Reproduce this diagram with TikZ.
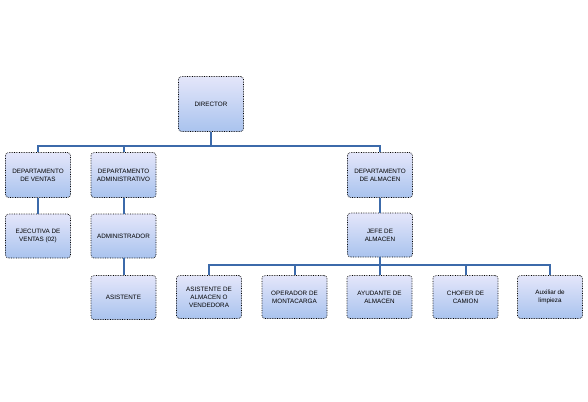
\documentclass[tikz,border=0pt]{standalone}
\usepackage{fontspec}
\setmainfont{Liberation Sans}
\usetikzlibrary{calc}
\definecolor{boxtop}{HTML}{E4E6FA}
\definecolor{boxbot}{HTML}{A9C3EE}
\definecolor{conn}{HTML}{3C6AAA}
\tikzset{
  orgbox/.style={draw=black, densely dotted, line width=0.7pt, rounded corners=3pt,
    top color=boxtop, bottom color=boxbot, minimum width=65pt, align=center,
    font=\fontsize{6.3}{8}\selectfont, inner sep=1pt},
  link/.style={draw=conn, line width=2pt}
}
\begin{document}
\begin{tikzpicture}[x=1pt,y=-1pt]
\useasboundingbox (0,0) rectangle (588,401);
\node[orgbox, minimum height=55pt] (dir) at (211,104) {DIRECTOR};
\node[orgbox, minimum height=45pt] (ven) at (38,175) {DEPARTAMENTO\\DE VENTAS};
\node[orgbox, minimum height=45pt] (adm) at (123.5,175) {DEPARTAMENTO\\ADMINISTRATIVO};
\node[orgbox, minimum height=45pt] (alm) at (380,175) {DEPARTAMENTO\\DE ALMACEN};
\node[orgbox, minimum height=44pt] (eje) at (38,236) {EJECUTIVA DE\\VENTAS (02)};
\node[orgbox, minimum height=44pt] (admr) at (123.5,236) {ADMINISTRADOR};
\node[orgbox, minimum height=44pt] (jef) at (380,235) {JEFE DE\\ALMACEN};
\node[orgbox, minimum height=44pt] (asi) at (123.5,297.5) {ASISTENTE};
\node[orgbox, minimum height=43pt] (asa) at (209,297) {ASISTENTE DE\\ALMACEN O\\VENDEDORA};
\node[orgbox, minimum height=43pt] (ope) at (294.5,297) {OPERADOR DE\\MONTACARGA};
\node[orgbox, minimum height=43pt] (ayu) at (379.5,297) {AYUDANTE DE\\ALMACEN};
\node[orgbox, minimum height=43pt] (cho) at (465.5,297) {CHOFER DE\\CAMION};
\node[orgbox, minimum height=43pt] (aux) at (550,297) {Auxiliar de\\limpieza};
% connectors
\coordinate (b1) at (211,146);
\draw[link] (dir.south) -- (b1);
\draw[link] (b1) -| (ven.north);
\draw[link] (b1) -| (adm.north);
\draw[link] (b1) -| (alm.north);
\draw[link] (ven.south) -- (eje.north);
\draw[link] (adm.south) -- (admr.north);
\draw[link] (admr.south) -- (asi.north);
\draw[link] (alm.south) -- (jef.north);
\coordinate (b2) at (380,265);
\draw[link] (jef.south) -- (b2);
\draw[link] (b2) -| (asa.north);
\draw[link] (b2) -| (ope.north);
\draw[link] (b2) -| (ayu.north);
\draw[link] (b2) -| (cho.north);
\draw[link] (b2) -| (aux.north);
\end{tikzpicture}
\end{document}
